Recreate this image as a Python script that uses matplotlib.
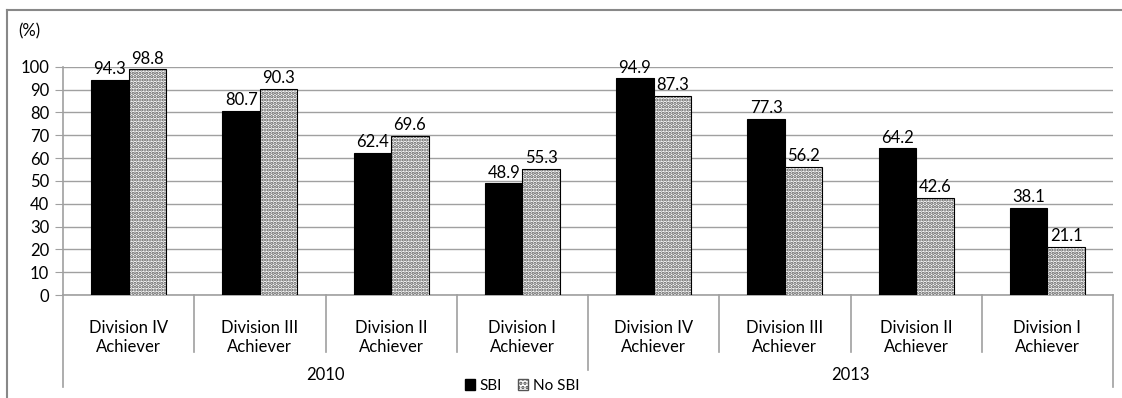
import numpy as np
import matplotlib
matplotlib.use('Agg')
import matplotlib.pyplot as plt
from matplotlib.lines import Line2D
from matplotlib.patches import Patch

plt.rcParams['font.family'] = ['Lato', 'DejaVu Sans']
plt.rcParams['hatch.linewidth'] = 1.6

categories = ['Division IV\nAchiever', 'Division III\nAchiever', 'Division II\nAchiever', 'Division I\nAchiever'] * 2
years = ['2010', '2013']
sbi = [94.3, 80.7, 62.4, 48.9, 94.9, 77.3, 64.2, 38.1]
no_sbi = [98.8, 90.3, 69.6, 55.3, 87.3, 56.2, 42.6, 21.1]

W, H = 1122, 398
fs = 12
fig = plt.figure(figsize=(W / 100, H / 100), dpi=100)
ax = fig.add_axes([63 / W, 1 - 295 / H, (1113 - 63) / W, (295 - 66.7) / H])

x = np.arange(len(categories))
bw = 0.285
grey = '#a0a0a0'

ax.bar(x - bw / 2, sbi, bw, color='black', edgecolor='black', lw=0.8, zorder=3)
# dotted fill first, then a black outline on top
ax.bar(x + bw / 2, no_sbi, bw, color='white', edgecolor='#555555', hatch='.....', lw=0, zorder=3)
ax.bar(x + bw / 2, no_sbi, bw, fill=False, edgecolor='black', lw=0.8, zorder=4)

for i in range(len(x)):
    ax.text(x[i] - bw / 2, sbi[i] + 1.2, f'{sbi[i]:.1f}', ha='center', va='bottom', fontsize=fs)
    ax.text(x[i] + bw / 2, no_sbi[i] + 1.2, f'{no_sbi[i]:.1f}', ha='center', va='bottom', fontsize=fs)

ax.set_xlim(-0.5, len(x) - 0.5)
ax.set_ylim(0, 100)
ax.set_yticks(np.arange(0, 101, 10))
ax.tick_params(axis='y', length=6, color=grey, labelsize=fs, pad=4)
ax.set_xticks([])
ax.yaxis.grid(True, color=grey, lw=1)
ax.set_axisbelow(True)
for s in ['top', 'right']:
    ax.spines[s].set_visible(False)
ax.spines['left'].set_color(grey)
ax.spines['bottom'].set_color(grey)
ax.spines['left'].set_linewidth(1.2)
ax.spines['bottom'].set_linewidth(1.2)

tr = ax.get_xaxis_transform()
for i, lab in enumerate(categories):
    ax.text(x[i], -0.185, lab, transform=tr, ha='center', va='center', fontsize=fs, linespacing=1.2)

# category dividers
for b in np.arange(-0.5, len(x), 1.0):
    if b in (-0.5, len(x) - 0.5):
        y0 = -0.403
    elif b == 3.5:
        y0 = -0.33
    else:
        y0 = -0.25
    ax.plot([b, b], [0, y0], transform=tr, color=grey, lw=1.2, clip_on=False)

for j, yr in enumerate(years):
    ax.text(1.5 + 4 * j, -0.35, yr, transform=tr, ha='center', va='center', fontsize=fs)

fig.text(18 / W, 1 - 31 / H, '(%)', ha='left', va='center', fontsize=fs)

handles = [Patch(facecolor='black', edgecolor='black'),
           Patch(facecolor='white', edgecolor='#555555', hatch='....')]
fig.legend(handles, ['SBI', 'No SBI'], loc='center', bbox_to_anchor=(522 / W, 1 - 386 / H),
           ncol=2, frameon=False, fontsize=11, handlelength=0.7, handleheight=0.7,
           handletextpad=0.3, columnspacing=1.0, borderpad=0)

# outer chart frame
fig.add_artist(Line2D([7 / W, 1], [1 - 10 / H, 1 - 10 / H], color='#888888', lw=1.5))
fig.add_artist(Line2D([7 / W, 7 / W], [0, 1 - 10 / H], color='#888888', lw=1.5))

fig.savefig('out.png', dpi=100)
